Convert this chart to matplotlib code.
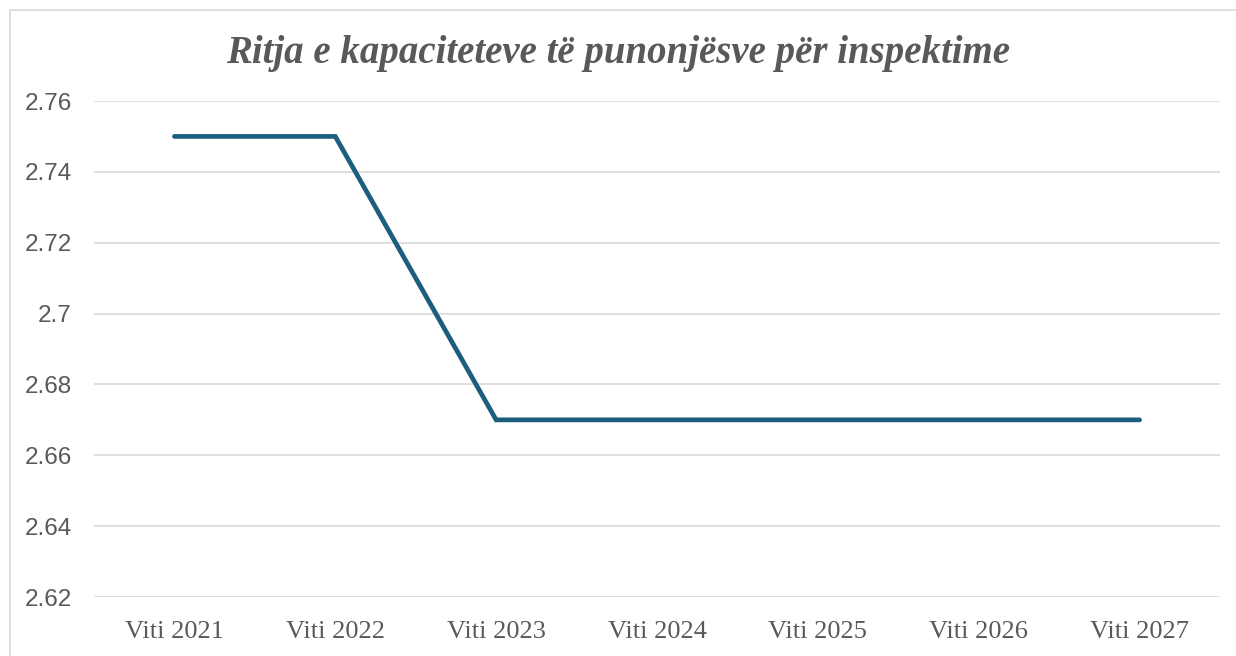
import matplotlib
matplotlib.use("Agg")
import matplotlib.pyplot as plt
from matplotlib.patches import Rectangle

# values
YEARS = ["Viti 2021", "Viti 2022", "Viti 2023", "Viti 2024", "Viti 2025", "Viti 2026", "Viti 2027"]
VALUES = [2.75, 2.75, 2.67, 2.67, 2.67, 2.67, 2.67]
YTICKS = [2.62, 2.64, 2.66, 2.68, 2.70, 2.72, 2.74, 2.76]
YTICK_LABELS = ["2.62", "2.64", "2.66", "2.68", "2.7", "2.72", "2.74", "2.76"]
TITLE = "Ritja e kapaciteteve të punonjësve për inspektime"

LINE = "#1B5E7E"
TEXT = "#595959"
GRID = "#D9D9D9"

W, H = 1236, 656
fig = plt.figure(figsize=(W / 100, H / 100), dpi=100)
ax = fig.add_axes([94 / W, 1 - 597 / H, (1220 - 94) / W, (597 - 101) / H])

xs = list(range(len(YEARS)))
ax.plot(xs, VALUES, color=LINE, lw=3.4, solid_capstyle="round", solid_joinstyle="miter", zorder=3)

ax.set_xlim(-0.5, len(YEARS) - 0.5)
ax.set_ylim(2.62, 2.76)
ax.set_yticks(YTICKS)
ax.set_yticklabels(YTICK_LABELS, fontfamily="Liberation Sans", fontsize=17.5, color=TEXT)
ax.set_xticks(xs)
ax.set_xticklabels(YEARS, fontfamily="Liberation Serif", fontsize=19, color=TEXT)
ax.tick_params(axis="both", length=0)
ax.tick_params(axis="y", pad=16)
ax.tick_params(axis="x", pad=17)
ax.grid(axis="y", color=GRID, lw=1.2)
ax.set_axisbelow(True)
for s in ax.spines.values():
    s.set_visible(False)

fig.text(0.5, 1 - 54 / H, TITLE, ha="center", va="center", fontfamily="Liberation Serif",
         fontsize=28, fontstyle="italic", fontweight="bold", color=TEXT)

# chart-area border (top and left edges visible in the crop)
fig.patches.append(Rectangle((9.5 / W, -0.1), 1.2, 1 - 9.5 / H + 0.1, transform=fig.transFigure,
                             fill=False, edgecolor=GRID, lw=1.2))

fig.savefig("out.png", dpi=100)
